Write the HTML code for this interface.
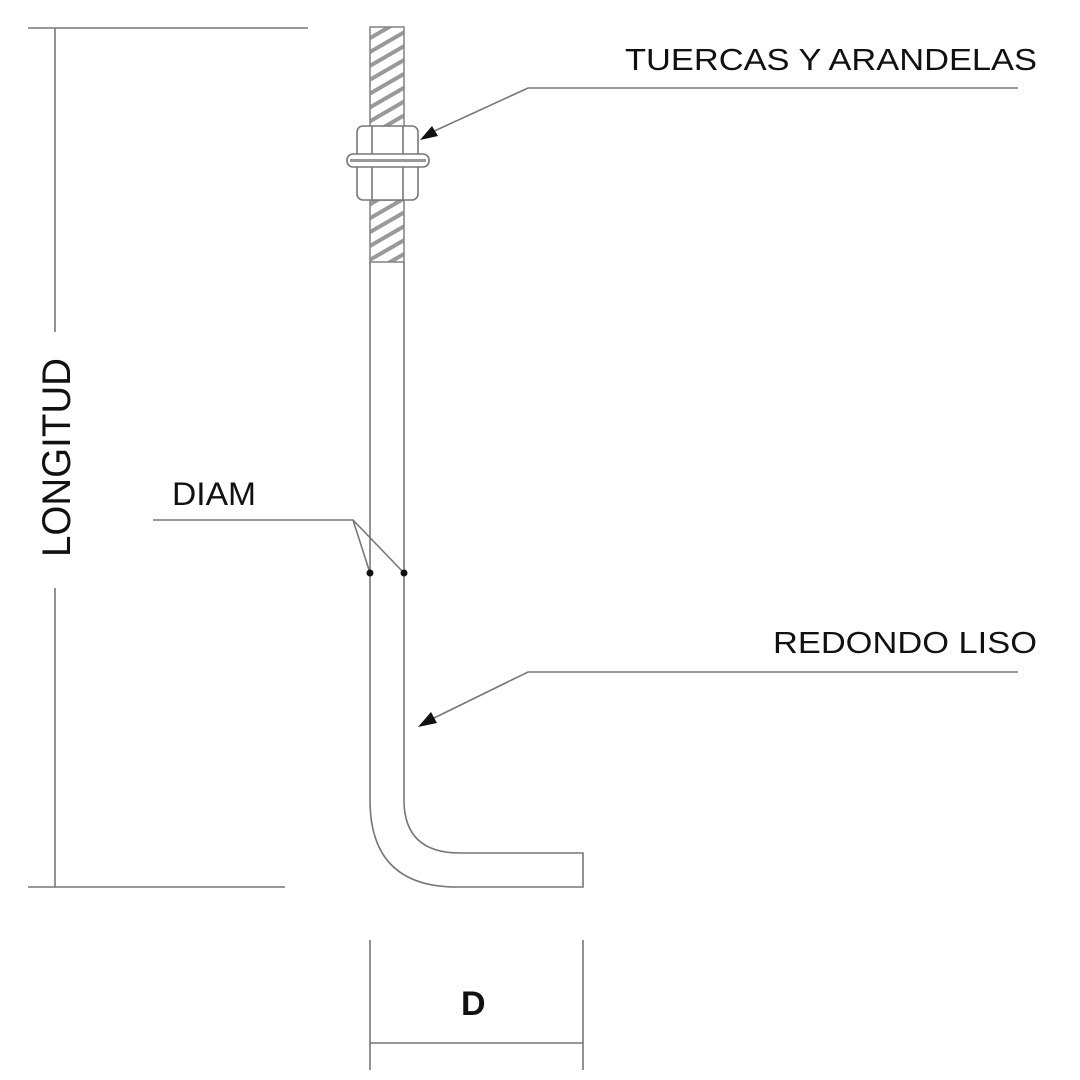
<!DOCTYPE html>
<html><head><style>body{margin:0;background:#fff}svg{display:block}</style></head><body>
<svg width="1080" height="1080" viewBox="0 0 1080 1080" xmlns="http://www.w3.org/2000/svg" font-family="Liberation Sans, sans-serif">
<defs>
<pattern id="th" width="12" height="12" patternUnits="userSpaceOnUse" patternTransform="rotate(-30)">
<rect width="12" height="12" fill="#fff"/><rect width="12" height="4" fill="#999"/>
</pattern>
</defs>
<g fill="none" stroke="#777" stroke-width="1.6">
<rect x="370" y="27" width="34" height="100" fill="url(#th)" stroke="#888"/>
<rect x="370" y="200" width="34" height="62" fill="url(#th)" stroke="#888"/>
<rect x="357" y="126" width="61" height="74" rx="6" fill="#fff"/>
<line x1="372" y1="126" x2="372" y2="200"/><line x1="403" y1="126" x2="403" y2="200"/>
<rect x="347" y="154" width="82" height="13" rx="6" fill="#fff"/>
<line x1="350" y1="160.5" x2="426" y2="160.5" stroke="#999" stroke-width="3"/>
<path d="M370 262 V800 Q370 887 457 887 H583 V853 H460 Q404 853 404 800 V262"/>
<line x1="28" y1="28" x2="308" y2="28"/>
<line x1="28" y1="887" x2="285" y2="887"/>
<line x1="55" y1="28" x2="55" y2="332"/>
<line x1="55" y1="588" x2="55" y2="887"/>
<line x1="370" y1="940" x2="370" y2="1070"/>
<line x1="583" y1="940" x2="583" y2="1070"/>
<line x1="370" y1="1043" x2="583" y2="1043"/>
<path d="M153 520 H353 L370 573 M353 520 L404 573"/>
<path d="M1018 88 H528 L430 133"/>
<path d="M1018 672 H528 L430 720"/>
</g>
<circle cx="370" cy="573" r="3.5" fill="#111"/>
<circle cx="404" cy="573" r="3.5" fill="#111"/>
<polygon points="420,140 432,126 438,136" fill="#111"/>
<polygon points="418,727 431,712 437,723" fill="#111"/>
<g fill="#111">
<text x="625" y="70" font-size="31" textLength="412" lengthAdjust="spacingAndGlyphs">TUERCAS Y ARANDELAS</text>
<text x="773" y="653" font-size="31" textLength="264" lengthAdjust="spacingAndGlyphs">REDONDO LISO</text>
<text x="172" y="505" font-size="32" textLength="84" lengthAdjust="spacingAndGlyphs">DIAM</text>
<text transform="translate(70,557) rotate(-90)" font-size="40" textLength="199" lengthAdjust="spacingAndGlyphs">LONGITUD</text>
<text x="461" y="1015" font-size="34" font-weight="bold">D</text>
</g>
</svg>
</body></html>
